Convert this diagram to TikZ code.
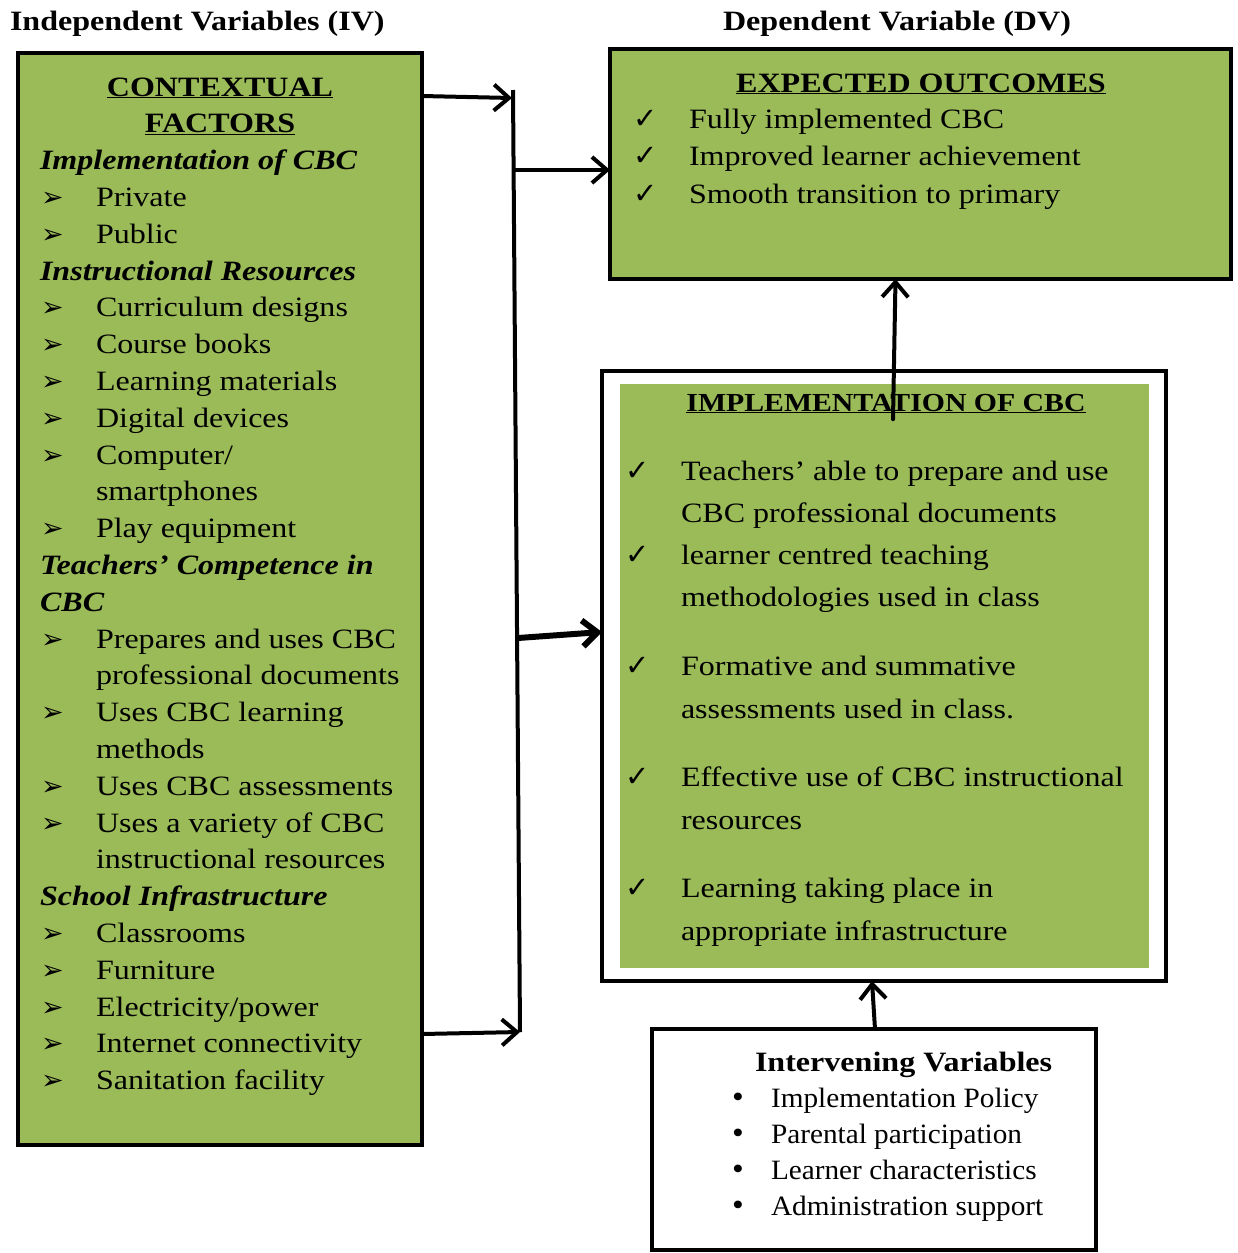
\documentclass[tikz,border=0pt]{standalone}
\usepackage{fontspec}
\setmainfont{Liberation Serif}[FakeStretch=1.145]
\newfontfamily\ivfont{Liberation Serif}[FakeStretch=1.045]
\newfontfamily\dingfont{DejaVu Sans}
\usetikzlibrary{arrows.meta}
\definecolor{boxgreen}{HTML}{9BBB59}
\newcommand\LA[3]{\node[txt] (#1) at (96,#2) {#3}; \node[ding] (#1m) at (41,#2) {➢};}
\newcommand\LC[3]{\node[txt] (#1) at (96,#2) {#3};}
\newcommand\LH[3]{\node[hd] (#1) at (40,#2) {#3};}
\newcommand\CK[5]{\node[txt] (#1) at (#3,#4) {#5}; \node[ck] (#1m) at (#2,#4) {✓};}
\begin{document}
\begin{tikzpicture}[x=1pt,y=-1pt,
  every node/.style={inner sep=0pt,outer sep=0pt},
  txt/.style={font=\fontsize{28}{34}\selectfont,anchor=base west},
  ivtxt/.style={font=\ivfont\fontsize{28}{34}\selectfont,anchor=base west},
  hd/.style={font=\fontsize{28}{34}\selectfont\bfseries\itshape,anchor=base west},
  ttl/.style={font=\fontsize{28}{34}\selectfont\bfseries,anchor=base},
  ding/.style={font=\dingfont\fontsize{27}{30}\selectfont,anchor=base west},
  ck/.style={font=\dingfont\fontsize{29}{30}\selectfont,anchor=base west},
  gbox/.style={draw=black,line width=4pt,fill=boxgreen},
  wbox/.style={draw=black,line width=4pt,fill=white},
  conn/.style={line width=4pt,line cap=round,-{Straight Barb[length=15pt,width=26pt]}},
  vline/.style={line width=4pt}]
\useasboundingbox (0,0) rectangle (1238,1253);
% boxes
\node[gbox,minimum width=404pt,minimum height=1092pt] (lbox) at (220,599) {};
\node[gbox,minimum width=621pt,minimum height=230pt] (eo) at (920.5,164) {};
\node[wbox,minimum width=564pt,minimum height=610pt] (implo) at (884,676) {};
\node[fill=boxgreen,minimum width=529pt,minimum height=584pt] (impli) at (884.5,676) {};
\node[wbox,minimum width=444pt,minimum height=221pt] (iv) at (874,1139.5) {};
% titles
\node[txt,font=\fontsize{28}{34}\selectfont\bfseries] (ivt) at (10,30) {Independent Variables (IV)};
\node[ttl] (dvt) at (897,30) {Dependent Variable (DV)};
% left box
\node[ttl] (ctx1) at (220,96) {\underline{CONTEXTUAL}};
\node[ttl] (ctx2) at (220,132.8) {\underline{FACTORS}};
\LH{h1}{169.6}{Implementation of CBC}
\LA{a1}{206.4}{Private}
\LA{a2}{243.2}{Public}
\LH{h2}{280}{Instructional Resources}
\LA{b1}{316.8}{Curriculum designs}
\LA{b2}{353.6}{Course books}
\LA{b3}{390.4}{Learning materials}
\LA{b4}{427.2}{Digital devices}
\LA{b5}{464}{Computer/}
\LC{b5c}{500.8}{smartphones}
\LA{b6}{537.6}{Play equipment}
\LH{h3}{574.4}{Teachers’ Competence in}
\LH{h3c}{611.2}{CBC}
\LA{c1}{648}{Prepares and uses CBC}
\LC{c1c}{684.8}{professional documents}
\LA{c2}{721.6}{Uses CBC learning}
\LC{c2c}{758.4}{methods}
\LA{c3}{795.2}{Uses CBC assessments}
\LA{c4}{832}{Uses a variety of CBC}
\LC{c4c}{868.8}{instructional resources}
\LH{h4}{905.6}{School Infrastructure}
\LA{d1}{942.4}{Classrooms}
\LA{d2}{979.2}{Furniture}
\LA{d3}{1016}{Electricity/power}
\LA{d4}{1052.8}{Internet connectivity}
\LA{d5}{1089.6}{Sanitation facility}
% expected outcomes
\node[ttl] (eot) at (921,92) {\underline{EXPECTED OUTCOMES}};
\CK{e1}{633}{689}{128}{Fully implemented CBC}
\CK{e2}{633}{689}{165}{Improved learner achievement}
\CK{e3}{633}{689}{203}{Smooth transition to primary}
% implementation
\node[ttl,font=\fontsize{26}{30}\selectfont\bfseries] (impt) at (886,411) {\underline{IMPLEMENTATION OF CBC}};
\CK{i1}{625}{681}{480}{Teachers’ able to prepare and use}
\node[txt] (i1d) at (681,522) {CBC professional documents};
\CK{i2}{625}{681}{564}{learner centred teaching}
\node[txt] (i2d) at (681,606) {methodologies used in class};
\CK{i3}{625}{681}{675}{Formative and summative}
\node[txt] (i3d) at (681,718) {assessments used in class.};
\CK{i4}{625}{681}{786}{Effective use of CBC instructional}
\node[txt] (i4d) at (681,829) {resources};
\CK{i5}{625}{681}{897}{Learning taking place in}
\node[txt] (i5d) at (681,940) {appropriate infrastructure};
% intervening
\node[txt,font=\fontsize{28}{34}\selectfont\bfseries] (ivh) at (755,1071) {Intervening Variables};
\foreach \n/\y/\t in {v1/1107/Implementation Policy,v2/1143/Parental participation,v3/1179/Learner characteristics,v4/1215/Administration support}{
  \node[ivtxt] (\n) at (771,\y) {\t};
  \node[ivtxt,font=\ivfont\fontsize{32}{34}\selectfont] (\n m) at (732,\y) {•};
}
% connectors
\coordinate (vt) at (513,90);
\coordinate (vb) at (520,1032);
\draw[vline] (vt) -- (vb);
\coordinate (j1) at (512,98);
\coordinate (j2) at (514,170);
\coordinate (j3) at (518,638);
\coordinate (j4) at (520,1032);
\draw[conn] (lbox.east |- 0,96) -- (j1);
\draw[conn] (j2) -- (eo.west |- j2);
\draw[conn,line width=6pt] (j3) -- ([yshift=44pt]implo.west);
\draw[conn] (lbox.east |- 0,1034) -- (j4);
\draw[conn] ([xshift=7pt,yshift=-6pt]impt.south) -- ([xshift=-25pt]eo.south);
\draw[conn] ([xshift=1pt]iv.north) -- ([xshift=-12pt]implo.south);
\end{tikzpicture}
\end{document}
